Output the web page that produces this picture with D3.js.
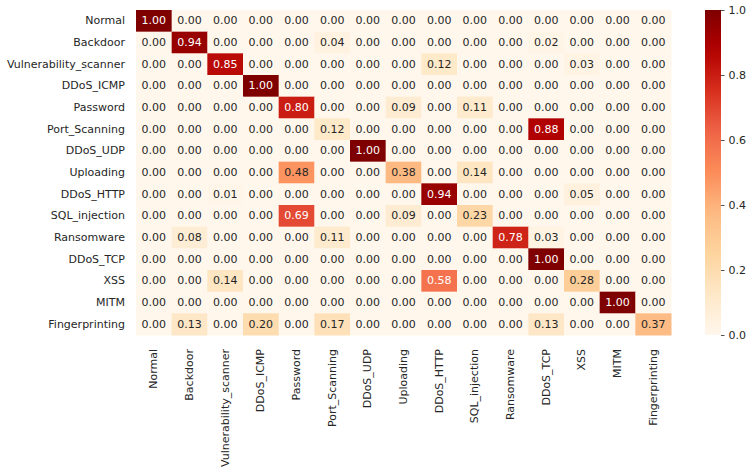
<!DOCTYPE html>
<html>
<head>
<meta charset="utf-8">
<script src="https://cdn.jsdelivr.net/npm/d3@7"></script>
<style>
  body { margin: 0; background: #fff; }
  text { font-family: "DejaVu Sans", sans-serif; }
</style>
</head>
<body>
<div id="chart"></div>
<script>
var labels = ["Normal", "Backdoor", "Vulnerability_scanner", "DDoS_ICMP", "Password",
    "Port_Scanning", "DDoS_UDP", "Uploading", "DDoS_HTTP", "SQL_injection",
    "Ransomware", "DDoS_TCP", "XSS", "MITM", "Fingerprinting"];

// confusion matrix rows (true) x columns (predicted)
var matrix = [
    [1.00, 0, 0, 0, 0, 0, 0, 0, 0, 0, 0, 0, 0, 0, 0],
    [0, 0.94, 0, 0, 0, 0.04, 0, 0, 0, 0, 0, 0.02, 0, 0, 0],
    [0, 0, 0.85, 0, 0, 0, 0, 0, 0.12, 0, 0, 0, 0.03, 0, 0],
    [0, 0, 0, 1.00, 0, 0, 0, 0, 0, 0, 0, 0, 0, 0, 0],
    [0, 0, 0, 0, 0.80, 0, 0, 0.09, 0, 0.11, 0, 0, 0, 0, 0],
    [0, 0, 0, 0, 0, 0.12, 0, 0, 0, 0, 0, 0.88, 0, 0, 0],
    [0, 0, 0, 0, 0, 0, 1.00, 0, 0, 0, 0, 0, 0, 0, 0],
    [0, 0, 0, 0, 0.48, 0, 0, 0.38, 0, 0.14, 0, 0, 0, 0, 0],
    [0, 0, 0.01, 0, 0, 0, 0, 0, 0.94, 0, 0, 0, 0.05, 0, 0],
    [0, 0, 0, 0, 0.69, 0, 0, 0.09, 0, 0.23, 0, 0, 0, 0, 0],
    [0, 0.08, 0, 0, 0, 0.11, 0, 0, 0, 0, 0.78, 0.03, 0, 0, 0],
    [0, 0, 0, 0, 0, 0, 0, 0, 0, 0, 0, 1.00, 0, 0, 0],
    [0, 0, 0.14, 0, 0, 0, 0, 0, 0.58, 0, 0, 0, 0.28, 0, 0],
    [0, 0, 0, 0, 0, 0, 0, 0, 0, 0, 0, 0, 0, 1.00, 0],
    [0, 0.13, 0, 0.20, 0, 0.17, 0, 0, 0, 0, 0, 0.13, 0, 0, 0.37]
];

var cbarTicks = [0, 0.2, 0.4, 0.6, 0.8, 1.0];

// matplotlib OrRd anchor colours
var orrd = ["#fff7ec", "#fee8c8", "#fdd49e", "#fdbb84", "#fc8d59", "#ef6548", "#d7301f", "#b30000", "#7f0000"];

function main() {
    var W = 755, H = 472;
    var margin = {top: 10, left: 136};
    var width = 535, height = 325;

    var svg = d3.select("#chart").append("svg")
        .attr("width", W).attr("height", H);

    var g = svg.append("g")
        .attr("transform", `translate(${margin.left}, ${margin.top})`);

    var x = d3.scaleBand().domain(labels).range([0, width]);
    var y = d3.scaleBand().domain(labels).range([0, height]);

    var color = d3.scaleLinear()
        .domain(d3.range(orrd.length).map(i => i / (orrd.length - 1)))
        .range(orrd)
        .interpolate(d3.interpolateRgb);

    var cells = [];
    matrix.forEach(function(row, i) {
        row.forEach(function(v, j) {
            cells.push({r: labels[i], c: labels[j], v: v});
        });
    });

    // seaborn style text colour: white on dark cells
    function lum(c) {
        var rgb = d3.rgb(c);
        var ch = [rgb.r, rgb.g, rgb.b].map(function(v) {
            v = v / 255;
            return v <= 0.03928 ? v / 12.92 : Math.pow((v + 0.055) / 1.055, 2.4);
        });
        return 0.2126 * ch[0] + 0.7152 * ch[1] + 0.0722 * ch[2];
    }

    g.selectAll(".cell")
        .data(cells)
        .enter()
        .append("rect")
        .attr("x", d => x(d.c))
        .attr("y", d => y(d.r))
        .attr("width", x.bandwidth() + 0.5)
        .attr("height", y.bandwidth() + 0.5)
        .attr("fill", d => color(d.v));

    g.selectAll(".annot")
        .data(cells)
        .enter()
        .append("text")
        .attr("x", d => x(d.c) + x.bandwidth() / 2)
        .attr("y", d => y(d.r) + y.bandwidth() / 2)
        .attr("text-anchor", "middle")
        .attr("dominant-baseline", "central")
        .style("font-size", "11px")
        .style("fill", d => lum(color(d.v)) > 0.408 ? "#262626" : "#ffffff")
        .text(d => d.v.toFixed(2));

    // row labels
    g.selectAll(".ylab")
        .data(labels)
        .enter()
        .append("text")
        .attr("x", -11)
        .attr("y", d => y(d) + y.bandwidth() / 2)
        .attr("text-anchor", "end")
        .attr("dominant-baseline", "central")
        .style("font-size", "11px")
        .style("fill", "#262626")
        .text(d => d);

    // column labels, rotated
    g.selectAll(".xlab")
        .data(labels)
        .enter()
        .append("text")
        .attr("transform", d => `translate(${x(d) + x.bandwidth() / 2}, ${height + 14}) rotate(-90)`)
        .attr("text-anchor", "end")
        .attr("dominant-baseline", "central")
        .style("font-size", "11px")
        .style("fill", "#262626")
        .text(d => d);

    // colorbar
    var cbX = 705, cbW = 16;
    var cy = d3.scaleLinear().domain([0, 1]).range([margin.top + height, margin.top]);

    var defs = svg.append("defs");
    var grad = defs.append("linearGradient")
        .attr("id", "cbgrad")
        .attr("x1", "0").attr("y1", "1").attr("x2", "0").attr("y2", "0");
    d3.range(0, 1.0001, 0.05).forEach(function(t) {
        grad.append("stop").attr("offset", t).attr("stop-color", color(t));
    });

    svg.append("rect")
        .attr("x", cbX).attr("y", margin.top)
        .attr("width", cbW).attr("height", height)
        .attr("fill", "url(#cbgrad)");

    var cbAxis = svg.append("g")
        .attr("transform", `translate(${cbX + cbW}, 0)`)
        .call(d3.axisRight(cy).tickValues(cbarTicks).tickFormat(d3.format(".1f")).tickSize(3.5).tickPadding(4));
    cbAxis.select(".domain").remove();
    cbAxis.selectAll("line").attr("stroke", "#262626").attr("stroke-width", 0.8);
    cbAxis.selectAll("text")
        .style("font-family", "DejaVu Sans, sans-serif")
        .style("font-size", "11px")
        .style("fill", "#262626");
}

main();
</script>
</body>
</html>
